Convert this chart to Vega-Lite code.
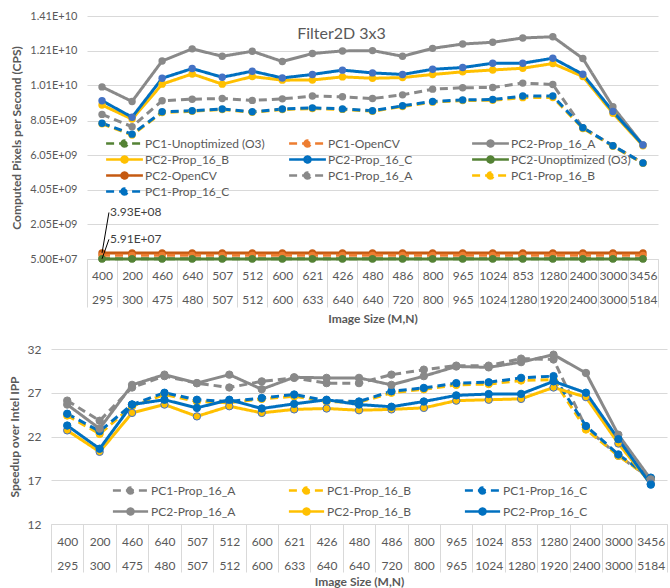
{
  "$schema": "https://vega.github.io/schema/vega-lite/v6.json",
  "padding": {"left": 8, "top": 10, "right": 0, "bottom": 0},
  "background": "white",
  "datasets": {
    "top": [
      {"x":"400|295","s":"PC2-Prop_16_A","v":10.0e9},{"x":"200|300","s":"PC2-Prop_16_A","v":9.16e9},{"x":"460|475","s":"PC2-Prop_16_A","v":11.5e9},{"x":"640|480","s":"PC2-Prop_16_A","v":12.2e9},{"x":"507|507","s":"PC2-Prop_16_A","v":11.77e9},{"x":"512|512","s":"PC2-Prop_16_A","v":12.06e9},{"x":"600|600","s":"PC2-Prop_16_A","v":11.47e9},{"x":"621|633","s":"PC2-Prop_16_A","v":11.93e9},{"x":"426|640","s":"PC2-Prop_16_A","v":12.08e9},{"x":"480|640","s":"PC2-Prop_16_A","v":12.1e9},{"x":"486|720","s":"PC2-Prop_16_A","v":11.77e9},{"x":"800|800","s":"PC2-Prop_16_A","v":12.23e9},{"x":"965|965","s":"PC2-Prop_16_A","v":12.48e9},{"x":"1024|1024","s":"PC2-Prop_16_A","v":12.58e9},{"x":"853|1280","s":"PC2-Prop_16_A","v":12.83e9},{"x":"1280|1920","s":"PC2-Prop_16_A","v":12.9e9},{"x":"2400|2400","s":"PC2-Prop_16_A","v":11.64e9},{"x":"3000|3000","s":"PC2-Prop_16_A","v":8.85e9},{"x":"3456|5184","s":"PC2-Prop_16_A","v":6.64e9},
      {"x":"400|295","s":"PC2-Prop_16_B","v":8.95e9},{"x":"200|300","s":"PC2-Prop_16_B","v":8.14e9},{"x":"460|475","s":"PC2-Prop_16_B","v":10.16e9},{"x":"640|480","s":"PC2-Prop_16_B","v":10.75e9},{"x":"507|507","s":"PC2-Prop_16_B","v":10.16e9},{"x":"512|512","s":"PC2-Prop_16_B","v":10.6e9},{"x":"600|600","s":"PC2-Prop_16_B","v":10.39e9},{"x":"621|633","s":"PC2-Prop_16_B","v":10.4e9},{"x":"426|640","s":"PC2-Prop_16_B","v":10.58e9},{"x":"480|640","s":"PC2-Prop_16_B","v":10.5e9},{"x":"486|720","s":"PC2-Prop_16_B","v":10.54e9},{"x":"800|800","s":"PC2-Prop_16_B","v":10.72e9},{"x":"965|965","s":"PC2-Prop_16_B","v":10.87e9},{"x":"1024|1024","s":"PC2-Prop_16_B","v":10.98e9},{"x":"853|1280","s":"PC2-Prop_16_B","v":11.08e9},{"x":"1280|1920","s":"PC2-Prop_16_B","v":11.35e9},{"x":"2400|2400","s":"PC2-Prop_16_B","v":10.6e9},{"x":"3000|3000","s":"PC2-Prop_16_B","v":8.48e9},{"x":"3456|5184","s":"PC2-Prop_16_B","v":6.6e9},
      {"x":"400|295","s":"PC2-Prop_16_C","v":9.2e9},{"x":"200|300","s":"PC2-Prop_16_C","v":8.25e9},{"x":"460|475","s":"PC2-Prop_16_C","v":10.5e9},{"x":"640|480","s":"PC2-Prop_16_C","v":11.06e9},{"x":"507|507","s":"PC2-Prop_16_C","v":10.56e9},{"x":"512|512","s":"PC2-Prop_16_C","v":10.91e9},{"x":"600|600","s":"PC2-Prop_16_C","v":10.52e9},{"x":"621|633","s":"PC2-Prop_16_C","v":10.72e9},{"x":"426|640","s":"PC2-Prop_16_C","v":10.97e9},{"x":"480|640","s":"PC2-Prop_16_C","v":10.81e9},{"x":"486|720","s":"PC2-Prop_16_C","v":10.72e9},{"x":"800|800","s":"PC2-Prop_16_C","v":11.02e9},{"x":"965|965","s":"PC2-Prop_16_C","v":11.12e9},{"x":"1024|1024","s":"PC2-Prop_16_C","v":11.37e9},{"x":"853|1280","s":"PC2-Prop_16_C","v":11.37e9},{"x":"1280|1920","s":"PC2-Prop_16_C","v":11.66e9},{"x":"2400|2400","s":"PC2-Prop_16_C","v":10.73e9},{"x":"3000|3000","s":"PC2-Prop_16_C","v":8.58e9},{"x":"3456|5184","s":"PC2-Prop_16_C","v":6.64e9},
      {"x":"400|295","s":"PC1-Prop_16_A","v":8.41e9},{"x":"200|300","s":"PC1-Prop_16_A","v":7.7e9},{"x":"460|475","s":"PC1-Prop_16_A","v":9.2e9},{"x":"640|480","s":"PC1-Prop_16_A","v":9.29e9},{"x":"507|507","s":"PC1-Prop_16_A","v":9.33e9},{"x":"512|512","s":"PC1-Prop_16_A","v":9.22e9},{"x":"600|600","s":"PC1-Prop_16_A","v":9.31e9},{"x":"621|633","s":"PC1-Prop_16_A","v":9.47e9},{"x":"426|640","s":"PC1-Prop_16_A","v":9.43e9},{"x":"480|640","s":"PC1-Prop_16_A","v":9.33e9},{"x":"486|720","s":"PC1-Prop_16_A","v":9.54e9},{"x":"800|800","s":"PC1-Prop_16_A","v":9.87e9},{"x":"965|965","s":"PC1-Prop_16_A","v":9.95e9},{"x":"1024|1024","s":"PC1-Prop_16_A","v":9.97e9},{"x":"853|1280","s":"PC1-Prop_16_A","v":10.22e9},{"x":"1280|1920","s":"PC1-Prop_16_A","v":10.14e9},{"x":"2400|2400","s":"PC1-Prop_16_A","v":7.64e9},{"x":"3000|3000","s":"PC1-Prop_16_A","v":6.6e9},{"x":"3456|5184","s":"PC1-Prop_16_A","v":5.6e9},
      {"x":"400|295","s":"PC1-Prop_16_B","v":7.87e9},{"x":"200|300","s":"PC1-Prop_16_B","v":7.22e9},{"x":"460|475","s":"PC1-Prop_16_B","v":8.52e9},{"x":"640|480","s":"PC1-Prop_16_B","v":8.59e9},{"x":"507|507","s":"PC1-Prop_16_B","v":8.69e9},{"x":"512|512","s":"PC1-Prop_16_B","v":8.53e9},{"x":"600|600","s":"PC1-Prop_16_B","v":8.69e9},{"x":"621|633","s":"PC1-Prop_16_B","v":8.75e9},{"x":"426|640","s":"PC1-Prop_16_B","v":8.7e9},{"x":"480|640","s":"PC1-Prop_16_B","v":8.59e9},{"x":"486|720","s":"PC1-Prop_16_B","v":8.87e9},{"x":"800|800","s":"PC1-Prop_16_B","v":9.12e9},{"x":"965|965","s":"PC1-Prop_16_B","v":9.21e9},{"x":"1024|1024","s":"PC1-Prop_16_B","v":9.23e9},{"x":"853|1280","s":"PC1-Prop_16_B","v":9.38e9},{"x":"1280|1920","s":"PC1-Prop_16_B","v":9.39e9},{"x":"2400|2400","s":"PC1-Prop_16_B","v":7.6e9},{"x":"3000|3000","s":"PC1-Prop_16_B","v":6.57e9},{"x":"3456|5184","s":"PC1-Prop_16_B","v":5.58e9},
      {"x":"400|295","s":"PC1-Prop_16_C","v":7.9e9},{"x":"200|300","s":"PC1-Prop_16_C","v":7.27e9},{"x":"460|475","s":"PC1-Prop_16_C","v":8.56e9},{"x":"640|480","s":"PC1-Prop_16_C","v":8.62e9},{"x":"507|507","s":"PC1-Prop_16_C","v":8.72e9},{"x":"512|512","s":"PC1-Prop_16_C","v":8.56e9},{"x":"600|600","s":"PC1-Prop_16_C","v":8.72e9},{"x":"621|633","s":"PC1-Prop_16_C","v":8.79e9},{"x":"426|640","s":"PC1-Prop_16_C","v":8.73e9},{"x":"480|640","s":"PC1-Prop_16_C","v":8.62e9},{"x":"486|720","s":"PC1-Prop_16_C","v":8.91e9},{"x":"800|800","s":"PC1-Prop_16_C","v":9.16e9},{"x":"965|965","s":"PC1-Prop_16_C","v":9.25e9},{"x":"1024|1024","s":"PC1-Prop_16_C","v":9.27e9},{"x":"853|1280","s":"PC1-Prop_16_C","v":9.47e9},{"x":"1280|1920","s":"PC1-Prop_16_C","v":9.47e9},{"x":"2400|2400","s":"PC1-Prop_16_C","v":7.64e9},{"x":"3000|3000","s":"PC1-Prop_16_C","v":6.6e9},{"x":"3456|5184","s":"PC1-Prop_16_C","v":5.6e9},
      {"x":"400|295","s":"PC2-OpenCV","v":3.93e8},{"x":"200|300","s":"PC2-OpenCV","v":3.93e8},{"x":"460|475","s":"PC2-OpenCV","v":3.93e8},{"x":"640|480","s":"PC2-OpenCV","v":3.93e8},{"x":"507|507","s":"PC2-OpenCV","v":3.93e8},{"x":"512|512","s":"PC2-OpenCV","v":3.93e8},{"x":"600|600","s":"PC2-OpenCV","v":3.93e8},{"x":"621|633","s":"PC2-OpenCV","v":3.93e8},{"x":"426|640","s":"PC2-OpenCV","v":3.93e8},{"x":"480|640","s":"PC2-OpenCV","v":3.93e8},{"x":"486|720","s":"PC2-OpenCV","v":3.93e8},{"x":"800|800","s":"PC2-OpenCV","v":3.93e8},{"x":"965|965","s":"PC2-OpenCV","v":3.93e8},{"x":"1024|1024","s":"PC2-OpenCV","v":3.93e8},{"x":"853|1280","s":"PC2-OpenCV","v":3.93e8},{"x":"1280|1920","s":"PC2-OpenCV","v":3.93e8},{"x":"2400|2400","s":"PC2-OpenCV","v":3.93e8},{"x":"3000|3000","s":"PC2-OpenCV","v":3.93e8},{"x":"3456|5184","s":"PC2-OpenCV","v":3.93e8},
      {"x":"400|295","s":"PC1-OpenCV","v":2.6e8},{"x":"200|300","s":"PC1-OpenCV","v":2.6e8},{"x":"460|475","s":"PC1-OpenCV","v":2.6e8},{"x":"640|480","s":"PC1-OpenCV","v":2.6e8},{"x":"507|507","s":"PC1-OpenCV","v":2.6e8},{"x":"512|512","s":"PC1-OpenCV","v":2.6e8},{"x":"600|600","s":"PC1-OpenCV","v":2.6e8},{"x":"621|633","s":"PC1-OpenCV","v":2.6e8},{"x":"426|640","s":"PC1-OpenCV","v":2.6e8},{"x":"480|640","s":"PC1-OpenCV","v":2.6e8},{"x":"486|720","s":"PC1-OpenCV","v":2.6e8},{"x":"800|800","s":"PC1-OpenCV","v":2.6e8},{"x":"965|965","s":"PC1-OpenCV","v":2.6e8},{"x":"1024|1024","s":"PC1-OpenCV","v":2.6e8},{"x":"853|1280","s":"PC1-OpenCV","v":2.6e8},{"x":"1280|1920","s":"PC1-OpenCV","v":2.6e8},{"x":"2400|2400","s":"PC1-OpenCV","v":2.6e8},{"x":"3000|3000","s":"PC1-OpenCV","v":2.6e8},{"x":"3456|5184","s":"PC1-OpenCV","v":2.6e8},
      {"x":"400|295","s":"PC1-Unoptimized (O3)","v":5.91e7},{"x":"200|300","s":"PC1-Unoptimized (O3)","v":5.91e7},{"x":"460|475","s":"PC1-Unoptimized (O3)","v":5.91e7},{"x":"640|480","s":"PC1-Unoptimized (O3)","v":5.91e7},{"x":"507|507","s":"PC1-Unoptimized (O3)","v":5.91e7},{"x":"512|512","s":"PC1-Unoptimized (O3)","v":5.91e7},{"x":"600|600","s":"PC1-Unoptimized (O3)","v":5.91e7},{"x":"621|633","s":"PC1-Unoptimized (O3)","v":5.91e7},{"x":"426|640","s":"PC1-Unoptimized (O3)","v":5.91e7},{"x":"480|640","s":"PC1-Unoptimized (O3)","v":5.91e7},{"x":"486|720","s":"PC1-Unoptimized (O3)","v":5.91e7},{"x":"800|800","s":"PC1-Unoptimized (O3)","v":5.91e7},{"x":"965|965","s":"PC1-Unoptimized (O3)","v":5.91e7},{"x":"1024|1024","s":"PC1-Unoptimized (O3)","v":5.91e7},{"x":"853|1280","s":"PC1-Unoptimized (O3)","v":5.91e7},{"x":"1280|1920","s":"PC1-Unoptimized (O3)","v":5.91e7},{"x":"2400|2400","s":"PC1-Unoptimized (O3)","v":5.91e7},{"x":"3000|3000","s":"PC1-Unoptimized (O3)","v":5.91e7},{"x":"3456|5184","s":"PC1-Unoptimized (O3)","v":5.91e7},
      {"x":"400|295","s":"PC2-Unoptimized (O3)","v":5.6e7},{"x":"200|300","s":"PC2-Unoptimized (O3)","v":5.6e7},{"x":"460|475","s":"PC2-Unoptimized (O3)","v":5.6e7},{"x":"640|480","s":"PC2-Unoptimized (O3)","v":5.6e7},{"x":"507|507","s":"PC2-Unoptimized (O3)","v":5.6e7},{"x":"512|512","s":"PC2-Unoptimized (O3)","v":5.6e7},{"x":"600|600","s":"PC2-Unoptimized (O3)","v":5.6e7},{"x":"621|633","s":"PC2-Unoptimized (O3)","v":5.6e7},{"x":"426|640","s":"PC2-Unoptimized (O3)","v":5.6e7},{"x":"480|640","s":"PC2-Unoptimized (O3)","v":5.6e7},{"x":"486|720","s":"PC2-Unoptimized (O3)","v":5.6e7},{"x":"800|800","s":"PC2-Unoptimized (O3)","v":5.6e7},{"x":"965|965","s":"PC2-Unoptimized (O3)","v":5.6e7},{"x":"1024|1024","s":"PC2-Unoptimized (O3)","v":5.6e7},{"x":"853|1280","s":"PC2-Unoptimized (O3)","v":5.6e7},{"x":"1280|1920","s":"PC2-Unoptimized (O3)","v":5.6e7},{"x":"2400|2400","s":"PC2-Unoptimized (O3)","v":5.6e7},{"x":"3000|3000","s":"PC2-Unoptimized (O3)","v":5.6e7},{"x":"3456|5184","s":"PC2-Unoptimized (O3)","v":5.6e7}
    ],
    "notes": [
      {"x":"400|295","v":3.93e8,"lv":2.74e9,"t":"3.93E+08"},
      {"x":"400|295","v":5.91e7,"lv":1.185e9,"t":"5.91E+07"}
    ],
    "bottom": [
      {"x":"400|295","s":"PC1-Prop_16_A","v":26.1},{"x":"200|300","s":"PC1-Prop_16_A","v":23.8},{"x":"460|475","s":"PC1-Prop_16_A","v":27.6},{"x":"640|480","s":"PC1-Prop_16_A","v":28.9},{"x":"507|507","s":"PC1-Prop_16_A","v":28.1},{"x":"512|512","s":"PC1-Prop_16_A","v":27.6},{"x":"600|600","s":"PC1-Prop_16_A","v":28.3},{"x":"621|633","s":"PC1-Prop_16_A","v":28.7},{"x":"426|640","s":"PC1-Prop_16_A","v":28.1},{"x":"480|640","s":"PC1-Prop_16_A","v":28.1},{"x":"486|720","s":"PC1-Prop_16_A","v":29.07},{"x":"800|800","s":"PC1-Prop_16_A","v":29.64},{"x":"965|965","s":"PC1-Prop_16_A","v":30.1},{"x":"1024|1024","s":"PC1-Prop_16_A","v":30.1},{"x":"853|1280","s":"PC1-Prop_16_A","v":30.9},{"x":"1280|1920","s":"PC1-Prop_16_A","v":30.8},{"x":"2400|2400","s":"PC1-Prop_16_A","v":23.0},{"x":"3000|3000","s":"PC1-Prop_16_A","v":19.8},{"x":"3456|5184","s":"PC1-Prop_16_A","v":17.2},
      {"x":"400|295","s":"PC1-Prop_16_B","v":24.4},{"x":"200|300","s":"PC1-Prop_16_B","v":22.3},{"x":"460|475","s":"PC1-Prop_16_B","v":25.45},{"x":"640|480","s":"PC1-Prop_16_B","v":26.8},{"x":"507|507","s":"PC1-Prop_16_B","v":26.0},{"x":"512|512","s":"PC1-Prop_16_B","v":25.85},{"x":"600|600","s":"PC1-Prop_16_B","v":26.3},{"x":"621|633","s":"PC1-Prop_16_B","v":26.6},{"x":"426|640","s":"PC1-Prop_16_B","v":26.0},{"x":"480|640","s":"PC1-Prop_16_B","v":25.9},{"x":"486|720","s":"PC1-Prop_16_B","v":27.0},{"x":"800|800","s":"PC1-Prop_16_B","v":27.4},{"x":"965|965","s":"PC1-Prop_16_B","v":27.9},{"x":"1024|1024","s":"PC1-Prop_16_B","v":28.0},{"x":"853|1280","s":"PC1-Prop_16_B","v":28.4},{"x":"1280|1920","s":"PC1-Prop_16_B","v":28.5},{"x":"2400|2400","s":"PC1-Prop_16_B","v":22.8},{"x":"3000|3000","s":"PC1-Prop_16_B","v":19.8},{"x":"3456|5184","s":"PC1-Prop_16_B","v":17.2},
      {"x":"400|295","s":"PC1-Prop_16_C","v":24.6},{"x":"200|300","s":"PC1-Prop_16_C","v":22.6},{"x":"460|475","s":"PC1-Prop_16_C","v":25.65},{"x":"640|480","s":"PC1-Prop_16_C","v":27.0},{"x":"507|507","s":"PC1-Prop_16_C","v":26.2},{"x":"512|512","s":"PC1-Prop_16_C","v":26.0},{"x":"600|600","s":"PC1-Prop_16_C","v":26.4},{"x":"621|633","s":"PC1-Prop_16_C","v":26.8},{"x":"426|640","s":"PC1-Prop_16_C","v":26.1},{"x":"480|640","s":"PC1-Prop_16_C","v":26.0},{"x":"486|720","s":"PC1-Prop_16_C","v":27.17},{"x":"800|800","s":"PC1-Prop_16_C","v":27.55},{"x":"965|965","s":"PC1-Prop_16_C","v":28.1},{"x":"1024|1024","s":"PC1-Prop_16_C","v":28.2},{"x":"853|1280","s":"PC1-Prop_16_C","v":28.7},{"x":"1280|1920","s":"PC1-Prop_16_C","v":28.9},{"x":"2400|2400","s":"PC1-Prop_16_C","v":23.2},{"x":"3000|3000","s":"PC1-Prop_16_C","v":19.95},{"x":"3456|5184","s":"PC1-Prop_16_C","v":17.3},
      {"x":"400|295","s":"PC2-Prop_16_A","v":25.65},{"x":"200|300","s":"PC2-Prop_16_A","v":22.9},{"x":"460|475","s":"PC2-Prop_16_A","v":27.9},{"x":"640|480","s":"PC2-Prop_16_A","v":29.07},{"x":"507|507","s":"PC2-Prop_16_A","v":28.1},{"x":"512|512","s":"PC2-Prop_16_A","v":29.07},{"x":"600|600","s":"PC2-Prop_16_A","v":27.4},{"x":"621|633","s":"PC2-Prop_16_A","v":28.77},{"x":"426|640","s":"PC2-Prop_16_A","v":28.7},{"x":"480|640","s":"PC2-Prop_16_A","v":28.7},{"x":"486|720","s":"PC2-Prop_16_A","v":27.9},{"x":"800|800","s":"PC2-Prop_16_A","v":28.9},{"x":"965|965","s":"PC2-Prop_16_A","v":30.0},{"x":"1024|1024","s":"PC2-Prop_16_A","v":29.9},{"x":"853|1280","s":"PC2-Prop_16_A","v":30.5},{"x":"1280|1920","s":"PC2-Prop_16_A","v":31.35},{"x":"2400|2400","s":"PC2-Prop_16_A","v":29.26},{"x":"3000|3000","s":"PC2-Prop_16_A","v":22.2},{"x":"3456|5184","s":"PC2-Prop_16_A","v":17.1},
      {"x":"400|295","s":"PC2-Prop_16_B","v":22.7},{"x":"200|300","s":"PC2-Prop_16_B","v":20.25},{"x":"460|475","s":"PC2-Prop_16_B","v":24.7},{"x":"640|480","s":"PC2-Prop_16_B","v":25.65},{"x":"507|507","s":"PC2-Prop_16_B","v":24.3},{"x":"512|512","s":"PC2-Prop_16_B","v":25.46},{"x":"600|600","s":"PC2-Prop_16_B","v":24.7},{"x":"621|633","s":"PC2-Prop_16_B","v":25.1},{"x":"426|640","s":"PC2-Prop_16_B","v":25.2},{"x":"480|640","s":"PC2-Prop_16_B","v":25.0},{"x":"486|720","s":"PC2-Prop_16_B","v":25.1},{"x":"800|800","s":"PC2-Prop_16_B","v":25.27},{"x":"965|965","s":"PC2-Prop_16_B","v":26.1},{"x":"1024|1024","s":"PC2-Prop_16_B","v":26.2},{"x":"853|1280","s":"PC2-Prop_16_B","v":26.3},{"x":"1280|1920","s":"PC2-Prop_16_B","v":27.6},{"x":"2400|2400","s":"PC2-Prop_16_B","v":26.5},{"x":"3000|3000","s":"PC2-Prop_16_B","v":21.2},{"x":"3456|5184","s":"PC2-Prop_16_B","v":16.6},
      {"x":"400|295","s":"PC2-Prop_16_C","v":23.25},{"x":"200|300","s":"PC2-Prop_16_C","v":20.6},{"x":"460|475","s":"PC2-Prop_16_C","v":25.65},{"x":"640|480","s":"PC2-Prop_16_C","v":26.2},{"x":"507|507","s":"PC2-Prop_16_C","v":25.27},{"x":"512|512","s":"PC2-Prop_16_C","v":26.2},{"x":"600|600","s":"PC2-Prop_16_C","v":25.2},{"x":"621|633","s":"PC2-Prop_16_C","v":25.73},{"x":"426|640","s":"PC2-Prop_16_C","v":26.2},{"x":"480|640","s":"PC2-Prop_16_C","v":25.65},{"x":"486|720","s":"PC2-Prop_16_C","v":25.4},{"x":"800|800","s":"PC2-Prop_16_C","v":26.0},{"x":"965|965","s":"PC2-Prop_16_C","v":26.7},{"x":"1024|1024","s":"PC2-Prop_16_C","v":26.85},{"x":"853|1280","s":"PC2-Prop_16_C","v":26.87},{"x":"1280|1920","s":"PC2-Prop_16_C","v":28.3},{"x":"2400|2400","s":"PC2-Prop_16_C","v":27.0},{"x":"3000|3000","s":"PC2-Prop_16_C","v":21.7},{"x":"3456|5184","s":"PC2-Prop_16_C","v":16.5}
    ]
  },
  "columns": 1,
  "spacing": 18,
  "resolve": {"scale": {"color": "independent", "strokeDash": "independent", "fill": "independent", "stroke": "independent", "x": "independent", "y": "independent"}},
  "concat": [
    {
      "width": 607,
      "height": 243,
      "title": {"text": "Filter2D 3x3", "fontSize": 16, "fontWeight": "normal", "color": "#595959", "font": "Lato", "offset": -32, "dx": -13, "anchor": "middle"},
      "encoding": {
        "x": {"field": "x", "type": "nominal", "bandPosition": 0.5,
          "scale": {"type": "band", "paddingInner": 0, "paddingOuter": 0, "range": [36, 607], "domain": ["400|295","200|300","460|475","640|480","507|507","512|512","600|600","621|633","426|640","480|640","486|720","800|800","965|965","1024|1024","853|1280","1280|1920","2400|2400","3000|3000","3456|5184"]},
          "axis": {"title": "Image Size (M,N)", "labelExpr": "isValid(datum.value) ? split(datum.value, '|') : ''", "labelLineHeight": 24, "labelAngle": 0, "labelBaseline": "top", "tickBand": "extent", "tickSize": 48, "labelPadding": -37, "titlePadding": 6, "titleFontWeight": "bold", "grid": false, "labelFlush": false, "labelOverlap": false}}
      },
      "layer": [
        {
          "data": {"name": "top"},
          "mark": {"type": "line", "strokeWidth": 3},
          "encoding": {
            "y": {"field": "v", "type": "quantitative",
              "scale": {"domain": [5e7, 1.41e10], "nice": false, "zero": false},
              "axis": {"title": "Computed Pixels per Second (CPS)", "offset": -36, "values": [5e7, 2.05e9, 4.05e9, 6.05e9, 8.05e9, 1.01e10, 1.21e10, 1.41e10], "tickCount": 20, "labelExpr": "datum.value < 1e10 ? replace(upper(format(datum.value, '.2e')), 'E+', 'E+0') : upper(format(datum.value, '.2e'))", "domain": false, "ticks": false, "labelPadding": 10, "labelFontSize": 11, "titlePadding": 6, "titleFontWeight": "bold", "labelOverlap": false}},
            "color": {"field": "s", "type": "nominal", "title": null,
              "scale": {"domain": ["PC1-Unoptimized (O3)", "PC1-OpenCV", "PC2-Prop_16_A", "PC2-Prop_16_B", "PC2-Prop_16_C", "PC2-Unoptimized (O3)", "PC2-OpenCV", "PC1-Prop_16_A", "PC1-Prop_16_B", "PC1-Prop_16_C"],
                "range": ["#548235", "#ED7D31", "#898989", "#FFC000", "#0070C0", "#548235", "#C55A11", "#898989", "#FFC000", "#0070C0"]},
              "legend": {"orient": "none", "legendX": 53, "legendY": 120, "direction": "horizontal", "columns": 3, "gridAlign": "all", "columnPadding": 22, "rowPadding": 1, "clipHeight": 15, "symbolType": "M-4.6,0L4.6,0M-0.75,0A0.75,0.75,0,1,0,0.75,0A0.75,0.75,0,1,0,-0.75,0Z", "symbolSize": 64, "symbolStrokeWidth": 2.5, "symbolOffset": 14.5, "labelOffset": 14.5,
                "encode": {"symbols": {"update": {"fill": {"scale": "concat_0_color", "field": "value"}}}}}},
            "strokeDash": {"field": "s", "type": "nominal", "title": null,
              "scale": {"domain": ["PC1-Unoptimized (O3)", "PC1-OpenCV", "PC2-Prop_16_A", "PC2-Prop_16_B", "PC2-Prop_16_C", "PC2-Unoptimized (O3)", "PC2-OpenCV", "PC1-Prop_16_A", "PC1-Prop_16_B", "PC1-Prop_16_C"],
                "range": [[8,5], [8,5], [1,0], [1,0], [1,0], [1,0], [1,0], [8,5], [8,5], [8,5]]}}
          }
        },
        {
          "data": {"name": "top"},
          "mark": {"type": "circle", "size": 55, "opacity": 1},
          "encoding": {
            "y": {"field": "v", "type": "quantitative"},
            "fill": {"field": "s", "type": "nominal", "legend": null,
              "scale": {"domain": ["PC1-Unoptimized (O3)", "PC1-OpenCV", "PC2-Prop_16_A", "PC2-Prop_16_B", "PC2-Prop_16_C", "PC2-Unoptimized (O3)", "PC2-OpenCV", "PC1-Prop_16_A", "PC1-Prop_16_B", "PC1-Prop_16_C"],
                "range": ["#548235", "#ED7D31", "#898989", "#FFC000", "#4472C4", "#548235", "#C55A11", "#898989", "#FFC000", "#0070C0"]}}
          }
        },
        {
          "data": {"name": "notes"},
          "mark": {"type": "rule", "color": "#000000", "strokeWidth": 1},
          "encoding": {
            "x2": {"field": "x", "bandPosition": 0.73},
            "y": {"field": "v", "type": "quantitative"},
            "y2": {"field": "lv"}
          }
        },
        {
          "data": {"name": "notes"},
          "mark": {"type": "text", "align": "left", "baseline": "middle", "fontSize": 12, "font": "Lato", "color": "#404040", "dx": 1},
          "encoding": {
            "x": {"field": "x", "type": "nominal", "bandPosition": 0.73},
            "y": {"field": "lv", "type": "quantitative"},
            "text": {"field": "t"}
          }
        }
      ]
    },
    {
      "width": 616,
      "height": 175,
      "data": {"name": "bottom"},
      "encoding": {
        "x": {"field": "x", "type": "nominal", "bandPosition": 0.5,
          "scale": {"type": "band", "paddingInner": 0, "paddingOuter": 0, "domain": ["400|295","200|300","460|475","640|480","507|507","512|512","600|600","621|633","426|640","480|640","486|720","800|800","965|965","1024|1024","853|1280","1280|1920","2400|2400","3000|3000","3456|5184"]},
          "axis": {"title": "Image Size (M,N)", "labelExpr": "isValid(datum.value) ? split(datum.value, '|') : ''", "labelLineHeight": 24, "labelAngle": 0, "labelBaseline": "top", "tickBand": "extent", "tickSize": 48, "labelPadding": -36, "titlePadding": 4, "titleFontWeight": "bold", "grid": false, "labelFlush": false, "labelOverlap": false}},
        "y": {"field": "v", "type": "quantitative",
          "scale": {"domain": [12, 32], "nice": false, "zero": false},
          "axis": {"title": "Speedup over Intel IPP", "values": [12, 17, 22, 27, 32], "tickCount": 10, "domain": false, "ticks": false, "labelPadding": 10, "titlePadding": 6, "titleFontWeight": "bold"}}
      },
      "layer": [
        {
          "mark": {"type": "line", "strokeWidth": 3},
          "encoding": {
            "color": {"field": "s", "type": "nominal", "title": null,
              "scale": {"domain": ["PC1-Prop_16_A", "PC1-Prop_16_B", "PC1-Prop_16_C", "PC2-Prop_16_A", "PC2-Prop_16_B", "PC2-Prop_16_C"],
                "range": ["#898989", "#FFC000", "#0070C0", "#898989", "#FFC000", "#0070C0"]},
              "legend": {"orient": "none", "legendX": 60, "legendY": 134, "direction": "horizontal", "columns": 3, "gridAlign": "all", "columnPadding": 51, "rowPadding": 6, "clipHeight": 15, "symbolType": "M-4.4,0L4.4,0M-0.75,0A0.75,0.75,0,1,0,0.75,0A0.75,0.75,0,1,0,-0.75,0Z", "symbolSize": 64, "symbolStrokeWidth": 2.5, "symbolOffset": 13.5, "labelOffset": 14.5,
                "encode": {"symbols": {"update": {"fill": {"scale": "concat_1_color", "field": "value"}}}}}},
            "strokeDash": {"field": "s", "type": "nominal", "title": null,
              "scale": {"domain": ["PC1-Prop_16_A", "PC1-Prop_16_B", "PC1-Prop_16_C", "PC2-Prop_16_A", "PC2-Prop_16_B", "PC2-Prop_16_C"],
                "range": [[8,5], [8,5], [8,5], [1,0], [1,0], [1,0]]}}
          }
        },
        {
          "mark": {"type": "point", "shape": "circle", "size": 55, "filled": false, "opacity": 1, "strokeWidth": 1},
          "encoding": {
            "fill": {"field": "s", "type": "nominal", "legend": null,
              "scale": {"domain": ["PC1-Prop_16_A", "PC1-Prop_16_B", "PC1-Prop_16_C", "PC2-Prop_16_A", "PC2-Prop_16_B", "PC2-Prop_16_C"],
                "range": ["#898989", "#FFC000", "#0070C0", "#898989", "#FFC000", "#0070C0"]}},
            "stroke": {"field": "s", "type": "nominal", "legend": null,
              "scale": {"domain": ["PC1-Prop_16_A", "PC1-Prop_16_B", "PC1-Prop_16_C", "PC2-Prop_16_A", "PC2-Prop_16_B", "PC2-Prop_16_C"],
                "range": ["#898989", "#FFC000", "#0070C0", "#898989", "#4472C4", "#0070C0"]}}
          }
        }
      ]
    }
  ],
  "config": {
    "view": {"stroke": null},
    "font": "Lato",
    "axis": {"labelFont": "Lato", "titleFont": "Lato", "labelColor": "#595959", "titleColor": "#595959", "labelFontSize": 12, "titleFontSize": 12, "gridColor": "#D9D9D9", "domainColor": "#D9D9D9", "tickColor": "#D9D9D9"},
    "legend": {"labelFont": "Lato", "labelFontSize": 12, "labelColor": "#595959"}
  }
}
